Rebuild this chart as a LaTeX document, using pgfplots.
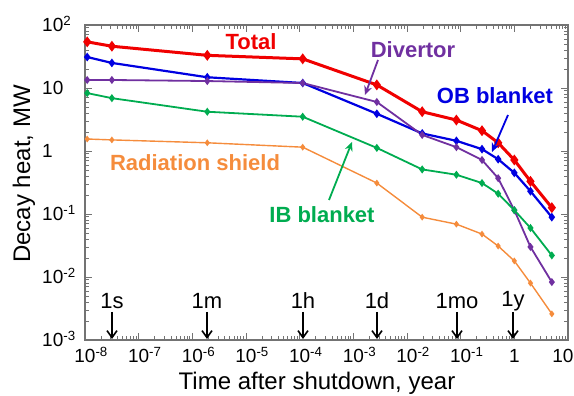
\documentclass[border=0pt]{standalone}
\usepackage{pgfplots}
\pgfplotsset{compat=1.18}
\usepackage{fontspec}
\setmainfont{Liberation Sans}
\usetikzlibrary{arrows.meta}
\definecolor{cTot}{RGB}{240,0,0}
\definecolor{cOB}{RGB}{0,0,225}
\definecolor{cDiv}{RGB}{112,48,160}
\definecolor{cIB}{RGB}{0,172,80}
\definecolor{cRS}{RGB}{245,140,60}
\begin{document}
\begin{tikzpicture}[x=1pt,y=1pt]
\path[use as bounding box] (0,0) rectangle (574,396);
\begin{axis}[
  at={(85pt,56pt)}, anchor=south west,
  scale only axis, width=483pt, height=315pt,
  xmode=log, ymode=log,
  xmin=1e-8, xmax=10, ymin=1e-3, ymax=1e2,
  axis line style={black!55, line width=1.2pt},
  every tick/.style={black!55, line width=0.8pt},
  major tick length=7pt, minor tick length=4pt,
  xtick={1e-8,1e-7,1e-6,1e-5,1e-4,1e-3,1e-2,1e-1,1,10},
  xticklabels={10\rlap{\textsuperscript{-8}},10\rlap{\textsuperscript{-7}},10\rlap{\textsuperscript{-6}},10\rlap{\textsuperscript{-5}},10\rlap{\textsuperscript{-4}},10\rlap{\textsuperscript{-3}},10\rlap{\textsuperscript{-2}},10\rlap{\textsuperscript{-1}},1,\makebox[0pt]{\hspace{-10pt}10}},
  ytick={1e-3,1e-2,1e-1,1,10,100},
  yticklabels={10\textsuperscript{-3},10\textsuperscript{-2},10\textsuperscript{-1},1,10,10\textsuperscript{2}},
  xticklabel style={font=\fontsize{19}{19}\selectfont, anchor=base, inner sep=0pt, yshift=-23pt},
  yticklabel style={font=\fontsize{19}{19}\selectfont, anchor=base west, inner sep=0pt, xshift=-43pt, yshift=-7pt},
  clip=false,
  mark options={solid},
]
\addplot[cTot, line width=3pt, mark=diamond*, mark size=3pt] coordinates {
(1.1e-8,54) (3.17e-8,46) (1.9e-6,33) (1.14e-4,29) (2.74e-3,11.2) (1.92e-2,4.2) (8.33e-2,3.1) (0.25,2.1) (0.5,1.35) (1,0.72) (2,0.33) (5,0.126)};
\addplot[cOB, line width=2.2pt, mark=diamond*, mark size=2.6pt] coordinates {
(1.1e-8,31) (3.17e-8,25) (1.9e-6,14.8) (1.14e-4,12) (2.74e-3,3.9) (1.92e-2,1.9) (8.33e-2,1.45) (0.25,1.07) (0.5,0.74) (1,0.45) (2,0.23) (5,0.089)};
\addplot[cDiv, line width=1.8pt, mark=diamond*, mark size=2.6pt] coordinates {
(1.1e-8,13.4) (3.17e-8,13.4) (1.9e-6,12.9) (1.14e-4,12) (2.74e-3,6.0) (1.92e-2,1.8) (8.33e-2,1.15) (0.25,0.72) (0.5,0.37) (1,0.115) (2,0.030) (5,0.0083)};
\addplot[cIB, line width=1.8pt, mark=diamond*, mark size=2.6pt] coordinates {
(1.1e-8,8.3) (3.17e-8,6.9) (1.9e-6,4.2) (1.14e-4,3.5) (2.74e-3,1.12) (1.92e-2,0.51) (8.33e-2,0.42) (0.25,0.31) (0.5,0.21) (1,0.115) (2,0.06) (5,0.022)};
\addplot[cRS, line width=1.4pt, mark=diamond*, mark size=2.3pt] coordinates {
(1.1e-8,1.55) (3.17e-8,1.5) (1.9e-6,1.35) (1.14e-4,1.15) (2.74e-3,0.31) (1.92e-2,0.089) (8.33e-2,0.069) (0.25,0.048) (0.5,0.031) (1,0.018) (2,0.008) (5,0.0026)};
\end{axis}
% series labels
\begin{scope}[font=\fontsize{22}{22}\selectfont\bfseries]
\node[cTot] at (251,354) {Total};
\node[cDiv] at (413,346) {Divertor};
\node[cOB] at (495,300) {OB blanket};
\node[cRS] at (195,233) {Radiation shield};
\node[cIB] at (322,181) {IB blanket};
\end{scope}
\draw[cDiv, line width=1.8pt, -{Stealth[length=9pt,width=8pt]}] (378,336) -- (365,301);
\draw[cOB, line width=1.8pt, -{Stealth[length=9pt,width=8pt]}] (508,281) -- (492,244);
\draw[cIB, line width=1.8pt, -{Stealth[length=9pt,width=8pt]}] (329,196) -- (352,254);
% time markers
\begin{scope}[font=\fontsize{22}{22}\selectfont]
\foreach \xx/\tt in {112/1s,207/1m,303/1h,377/1d,457/1mo,513/1y}{
  \node at (\xx,95) {\tt};
  \draw[black, line width=1.6pt, -{Straight Barb[length=7pt,width=10pt]}] (\xx,84) -- (\xx,57);
}
\end{scope}
% axis labels
\node[font=\fontsize{24}{24}\selectfont] at (317,13) {Time after shutdown, year};
\node[font=\fontsize{24}{24}\selectfont, rotate=90] at (24,222) {Decay heat, MW};
\end{tikzpicture}
\end{document}
